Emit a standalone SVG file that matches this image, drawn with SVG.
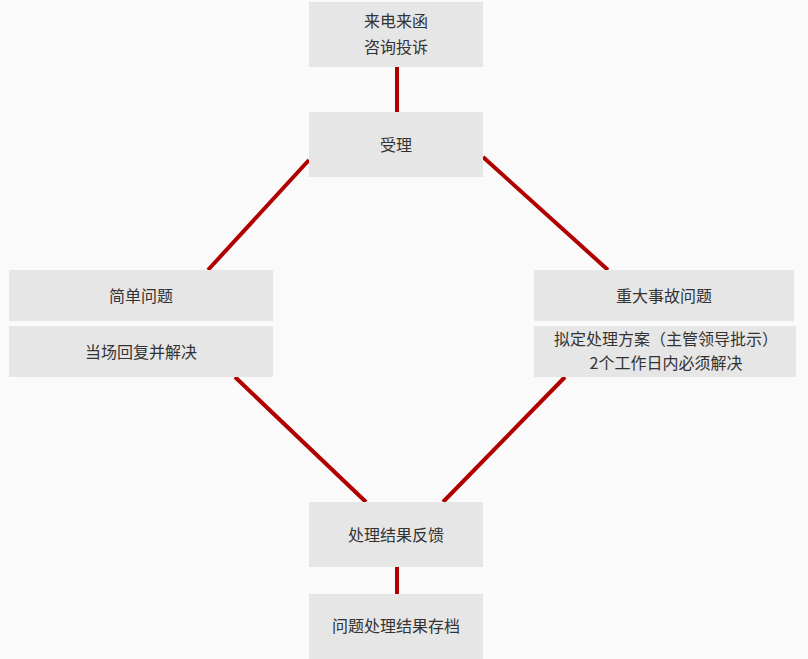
<svg xmlns="http://www.w3.org/2000/svg" width="808" height="659" viewBox="0 0 808 659">
<style>
.bg{fill:#fafafa}
.box{fill:#e6e6e6}
.t{font-family:"Noto Sans CJK SC","Liberation Sans",sans-serif;font-size:16px;fill:#333;text-anchor:middle;dominant-baseline:central}
.c{stroke:#b00000;stroke-width:4;fill:none}
</style>
<rect class="bg" x="0" y="0" width="808" height="659"/>
<g id="connectors">
<line class="c" x1="397" y1="67" x2="397" y2="112"/>
<line class="c" x1="309" y1="160" x2="208" y2="270"/>
<line class="c" x1="483" y1="157" x2="608" y2="270"/>
<line class="c" x1="235" y1="377" x2="366" y2="502"/>
<line class="c" x1="565" y1="377" x2="443" y2="502"/>
<line class="c" x1="397" y1="567" x2="397" y2="594"/>
</g>
<g id="n1"><rect class="box" x="309" y="2" width="174" height="65"/><text class="t" x="396" y="20">来电来函</text><text class="t" x="396" y="46">咨询投诉</text></g>
<g id="n2"><rect class="box" x="309" y="112" width="174" height="65"/><text class="t" x="396" y="144">受理</text></g>
<g id="n3"><rect class="box" x="9" y="270" width="264" height="51"/><text class="t" x="141" y="295">简单问题</text></g>
<g id="n4"><rect class="box" x="9" y="326" width="264" height="51"/><text class="t" x="141" y="351">当场回复并解决</text></g>
<g id="n5"><rect class="box" x="534" y="270" width="260" height="51"/><text class="t" x="664" y="295">重大事故问题</text></g>
<g id="n6"><rect class="box" x="534" y="326" width="262" height="51"/><text class="t" x="666" y="338">拟定处理方案（主管领导批示）</text><text class="t" x="666" y="362">2个工作日内必须解决</text></g>
<g id="n7"><rect class="box" x="309" y="502" width="174" height="65"/><text class="t" x="396" y="534">处理结果反馈</text></g>
<g id="n8"><rect class="box" x="309" y="594" width="174" height="65"/><text class="t" x="396" y="625">问题处理结果存档</text></g>
</svg>
